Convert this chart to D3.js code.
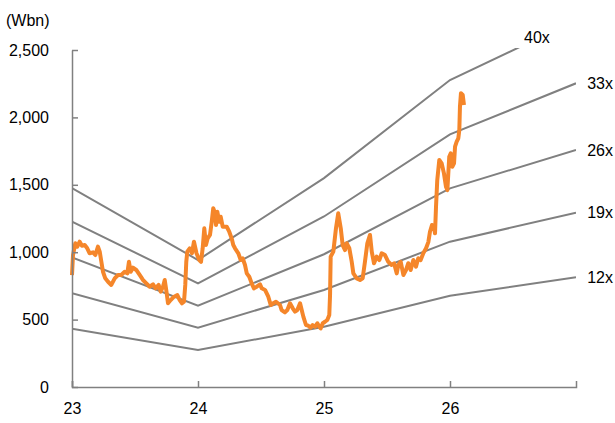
<!DOCTYPE html>
<html>
<head>
<meta charset="utf-8">
<script src="https://cdn.jsdelivr.net/npm/d3@7"></script>
<style>
  body { margin: 0; background: #fff; }
</style>
</head>
<body>
<script>
var w = 615;
var h = 423;

//Year ticks and value ticks
var xTicks = [23, 24, 25, 26];
var yTicks = [0, 500, 1000, 1500, 2000, 2500];

//P/E band lines, read at the start of each year
var bandYears = [23, 24, 25, 26, 27];
var band12 = [432, 274, 447, 677, 814];
var band19 = [695, 440, 720, 1078, 1293];
var band26 = [962, 603, 985, 1474, 1758];
var band33 = [1226, 769, 1265, 1874, 2253];
var band40 = [1476, 942, 1550, 2277, 2720];
var bandNames = ["12x", "19x", "26x", "33x", "40x"];

//Market cap (Wbn), x as fractional year
var priceYears = [23.000, 23.008, 23.026, 23.042, 23.061, 23.079, 23.101, 23.121, 23.140, 23.167,
    23.185, 23.206, 23.220, 23.233, 23.246, 23.264, 23.286, 23.312, 23.339, 23.365,
    23.391, 23.418, 23.439, 23.452, 23.466, 23.484, 23.510, 23.537, 23.563, 23.590,
    23.617, 23.643, 23.664, 23.688, 23.704, 23.722, 23.736, 23.748, 23.762, 23.783,
    23.810, 23.836, 23.855, 23.873, 23.889, 23.899, 23.907, 23.915, 23.934, 23.952,
    23.968, 23.988, 24.010, 24.024, 24.037, 24.050, 24.063, 24.077, 24.095, 24.109,
    24.121, 24.135, 24.143, 24.153, 24.169, 24.180, 24.196, 24.228, 24.248, 24.267,
    24.280, 24.294, 24.320, 24.339, 24.355, 24.373, 24.387, 24.407, 24.426, 24.444,
    24.466, 24.492, 24.506, 24.532, 24.558, 24.577, 24.598, 24.619, 24.651, 24.664,
    24.690, 24.709, 24.730, 24.752, 24.770, 24.788, 24.810, 24.823, 24.836, 24.857,
    24.875, 24.894, 24.910, 24.929, 24.947, 24.963, 24.974, 24.990, 25.008, 25.026,
    25.042, 25.048, 25.053, 25.074, 25.095, 25.113, 25.133, 25.148, 25.167, 25.180,
    25.201, 25.220, 25.233, 25.260, 25.286, 25.307, 25.325, 25.344, 25.365, 25.379,
    25.397, 25.418, 25.439, 25.458, 25.484, 25.510, 25.537, 25.556, 25.577, 25.590,
    25.609, 25.630, 25.651, 25.669, 25.688, 25.709, 25.730, 25.748, 25.767, 25.788,
    25.810, 25.828, 25.841, 25.857, 25.873, 25.881, 25.889, 25.899, 25.915, 25.934,
    25.952, 25.968, 25.979, 25.994, 26.006, 26.018, 26.032, 26.040, 26.053, 26.066,
    26.074, 26.079, 26.087, 26.101, 26.111];
var priceValues = [830, 979, 1066, 1041, 1078, 1048, 1053, 1029, 992, 999,
    979, 1041, 1004, 929, 855, 806, 781, 757, 806, 831,
    831, 855, 843, 929, 855, 885, 868, 831, 794, 769,
    744, 762, 732, 757, 707, 744, 794, 720, 621, 645,
    670, 682, 645, 621, 633, 757, 929, 1004, 1029, 992,
    1078, 992, 942, 929, 1029, 1177, 1053, 1103, 1128, 1226,
    1326, 1289, 1202, 1300, 1226, 1263, 1189, 1189, 1152, 1103,
    1053, 1029, 992, 942, 955, 905, 843, 818, 769, 732,
    744, 762, 732, 720, 670, 608, 621, 633, 608, 571,
    554, 571, 621, 584, 559, 571, 621, 571, 522, 460,
    455, 440, 460, 447, 473, 447, 435, 473, 484, 497,
    534, 682, 967, 1004, 1177, 1289, 1177, 1053, 1016, 1066,
    1029, 929, 843, 806, 794, 806, 929, 1066, 1128, 1004,
    918, 967, 942, 992, 979, 929, 905, 918, 843, 905,
    929, 831, 868, 918, 868, 942, 892, 955, 942, 992,
    1029, 1075, 1152, 1202, 1189, 1140, 1337, 1536, 1684, 1659,
    1585, 1486, 1461, 1708, 1734, 1634, 1659, 1783, 1820, 1845,
    1906, 2079, 2179, 2166, 2092];

var xScale = d3.scaleLinear().domain([23, 27]).range([72, 576]);
var yScale = d3.scaleLinear().domain([0, 2500]).range([387, 50]);

var svg = d3.select("body")
    .append("svg")
    .attr("width", w)
    .attr("height", h)
    .style("font-family", "'Liberation Sans', Arial, sans-serif");

//Clip the bands so 40x stops at the top of the plot
svg.append("clipPath")
    .attr("id", "plotClip")
    .append("rect")
    .attr("x", xScale(23))
    .attr("y", yScale(2515))
    .attr("width", xScale(27) - xScale(23))
    .attr("height", yScale(0) - yScale(2515));

var bandLine = d3.line()
    .x(function (d, i) { return xScale(bandYears[i]); })
    .y(function (d) { return yScale(d); });

var bands = [band12, band19, band26, band33, band40];

svg.append("g")
    .attr("clip-path", "url(#plotClip)")
    .selectAll("path")
    .data(bands)
    .enter()
    .append("path")
    .attr("d", bandLine)
    .attr("fill", "none")
    .attr("stroke", "#808080")
    .attr("stroke-width", 2);

//Band labels at the right end
svg.selectAll("text.band")
    .data(bands)
    .enter()
    .append("text")
    .attr("class", "band")
    .attr("x", function (d, i) { return i == 4 ? 524 : 613; })
    .attr("y", function (d, i) {
        return i == 4 ? yScale(2500) - 13 : yScale(d[d.length - 1]);
    })
    .attr("dy", "0.35em")
    .attr("text-anchor", function (d, i) { return i == 4 ? "start" : "end"; })
    .attr("font-size", "16px")
    .attr("fill", "#000")
    .text(function (d, i) { return bandNames[i]; });

//Price line
var priceLine = d3.line()
    .x(function (d, i) { return xScale(priceYears[i]); })
    .y(function (d) { return yScale(d); });

svg.append("path")
    .datum(priceValues)
    .attr("d", priceLine)
    .attr("fill", "none")
    .attr("stroke", "#f5862a")
    .attr("stroke-width", 4)
    .attr("stroke-linejoin", "round");

//Axes
var xAxis = d3.axisBottom(xScale)
    .tickValues(xTicks)
    .tickFormat(d3.format("d"))
    .tickSizeInner(-6)
    .tickSizeOuter(-6)
    .tickPadding(16);

var yAxis = d3.axisLeft(yScale)
    .tickValues(yTicks)
    .tickFormat(d3.format(","))
    .tickSizeInner(-6)
    .tickSizeOuter(0)
    .tickPadding(23);

var gx = svg.append("g")
    .attr("transform", "translate(0," + yScale(0) + ")")
    .call(xAxis);

var gy = svg.append("g")
    .attr("transform", "translate(" + xScale(23) + ",0)")
    .call(yAxis);

[gx, gy].forEach(function (g) {
    g.attr("font-family", null).attr("font-size", null);
    g.selectAll("path, line").attr("stroke", "#808080").attr("stroke-width", 1.5);
    g.selectAll("text").attr("fill", "#000").attr("font-size", "16px");
});

//Unit label
svg.append("text")
    .attr("x", 6)
    .attr("y", 20)
    .attr("dy", "0.35em")
    .attr("font-size", "16px")
    .attr("fill", "#000")
    .text("(Wbn)");
</script>
</body>
</html>
